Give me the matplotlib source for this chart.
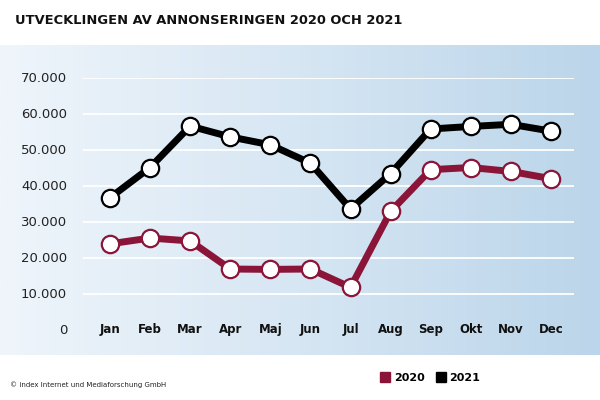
import matplotlib.pyplot as plt
import numpy as np
from matplotlib.colors import LinearSegmentedColormap
from matplotlib.lines import Line2D

# monthly ad counts
months = ['Jan', 'Feb', 'Mar', 'Apr', 'Maj', 'Jun', 'Jul', 'Aug', 'Sep', 'Okt', 'Nov', 'Dec']
ads_2020 = [23800, 25400, 24600, 16800, 16700, 16800, 11700, 32800, 44400, 45000, 43900, 41900]
ads_2021 = [36600, 45000, 56500, 53500, 51300, 46200, 33500, 43300, 55700, 56400, 57000, 55100]
yticks = [0, 10000, 20000, 30000, 40000, 50000, 60000, 70000]

red = '#8a1538'

fig = plt.figure(figsize=(6, 4), dpi=100)

# background panel with horizontal gradient
bg = fig.add_axes([0, 1 - 355 / 400, 1, 310 / 400])
cmap = LinearSegmentedColormap.from_list('bg', ['#eff5fb', '#d6e6f3', '#bbd5ea'])
bg.imshow(np.linspace(0, 1, 256).reshape(1, -1), aspect='auto', cmap=cmap,
          extent=[0, 1, 0, 1])
bg.axis('off')

# main axes
ax = fig.add_axes([83 / 600, 1 - 329.5 / 400, 491 / 600, 252 / 400])
ax.patch.set_alpha(0)
x = np.arange(len(months))
step = (551 - 110) / 11
ax.set_xlim(-(110 - 83) / step, 11 + (574 - 551) / step)
ax.set_ylim(0, 70000)

for v in yticks[1:]:
    ax.axhline(v, color='white', lw=1.3, zorder=1)

ax.plot(x, ads_2020, color=red, lw=5, marker='o', ms=12.5, mfc='white',
        mec=red, mew=1.6, clip_on=False, zorder=3)
ax.plot(x, ads_2021, color='black', lw=5, marker='o', ms=12.5, mfc='white',
        mec='black', mew=1.6, clip_on=False, zorder=4)

for s in ax.spines.values():
    s.set_visible(False)
ax.set_xticks([])
ax.set_yticks(yticks)
ax.set_yticklabels([f'{v:,}'.replace(',', '.') for v in yticks],
                   fontsize=9.5, color='#222222')
ax.tick_params(axis='y', length=0, pad=11.5)

for i, m in enumerate(months):
    ax.text(i, 0, m, ha='center', va='center', fontsize=8.5,
            fontweight='bold', color='#111111')

# title and footer
fig.text(15 / 600, 1 - 21 / 400, 'UTVECKLINGEN AV ANNONSERINGEN 2020 OCH 2021',
         fontsize=9.4, fontweight='bold', va='center', ha='left', color='#111111')
fig.text(10 / 600, 1 - 385 / 400, '© index Internet und Mediaforschung GmbH',
         fontsize=5.0, va='center', ha='left', color='#222222')

handles = [Line2D([], [], ls='', marker='s', ms=7, color=red),
           Line2D([], [], ls='', marker='s', ms=7, color='black')]
fig.legend(handles, ['2020', '2021'], loc='center left',
           bbox_to_anchor=(371 / 600, 1 - 378 / 400), ncol=2, frameon=False,
           prop={'weight': 'bold', 'size': 8}, handlelength=0.8,
           handletextpad=0.4, columnspacing=1.0)

fig.savefig('out.png', dpi=100)
